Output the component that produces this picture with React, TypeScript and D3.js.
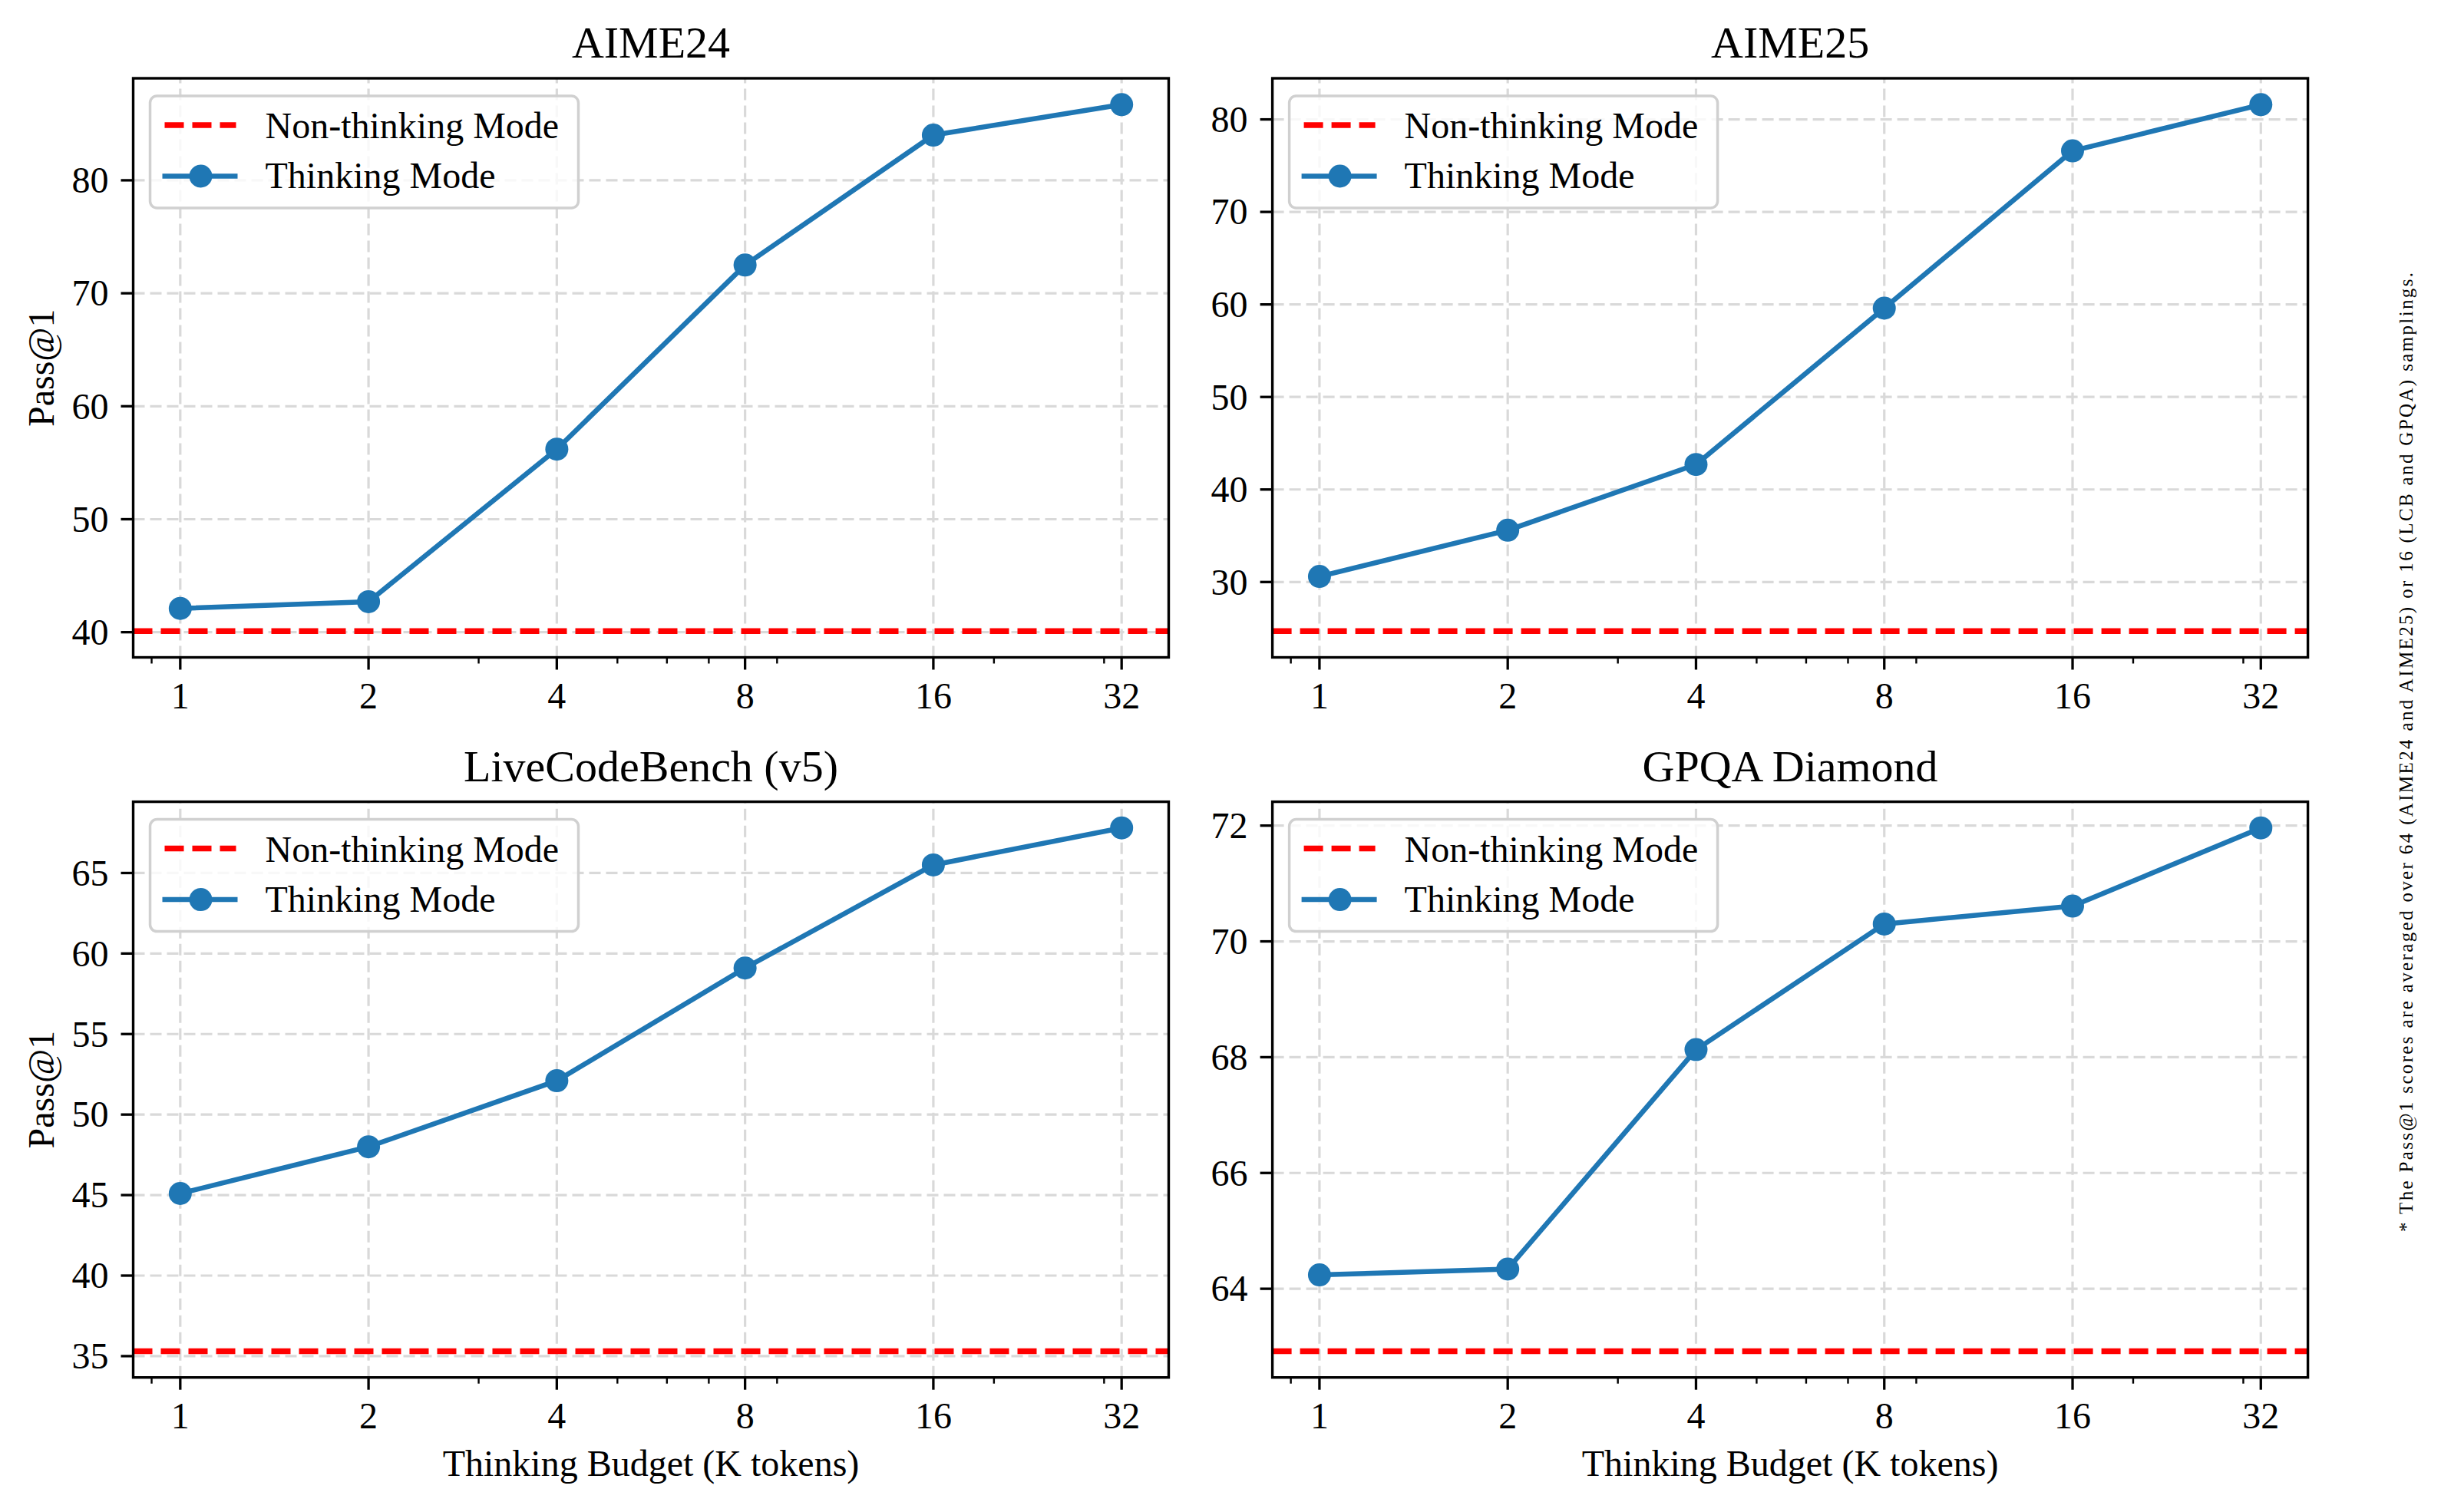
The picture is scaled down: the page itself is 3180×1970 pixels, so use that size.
import React, { useEffect } from "react";
import * as d3 from "d3";

// thinking budget (K tokens)
const budgets = [1, 2, 4, 8, 16, 32];
const minorBudgets = [0.9, 3, 5, 6, 7, 9, 20, 30];

const titles = ["AIME24", "AIME25", "LiveCodeBench (v5)", "GPQA Diamond"];

// Pass@1, thinking mode
const aime24 = [42.1, 42.7, 56.2, 72.5, 84.0, 86.7];
const aime25 = [30.6, 35.6, 42.7, 59.6, 76.6, 81.6];
const lcb = [45.1, 48.0, 52.1, 59.1, 65.5, 67.8];
const gpqa = [64.24, 64.34, 68.13, 70.3, 70.61, 71.96];

// Pass@1, non-thinking mode
const nonThinking = [40.1, 24.7, 35.3, 62.92];

const yTicks = [
  [40, 50, 60, 70, 80],
  [30, 40, 50, 60, 70, 80],
  [35, 40, 45, 50, 55, 60, 65],
  [64, 66, 68, 70, 72],
];

const seriesList = [aime24, aime25, lcb, gpqa];

const W = 3180;
const H = 1970;
const colX = [173.5, 1657.6];
const rowY = [102, 1044.6];
const plotW = 1349;
const plotH = [754.5, 750.1];

const FONT = "'Liberation Serif', 'DejaVu Serif', serif";
const BLUE = "#1f77b4";
const GRID = "#d9d9d9";

const Panel = ({ idx }: { idx: number }) => {
  const col = idx % 2;
  const row = Math.floor(idx / 2);
  const left = colX[col];
  const top = rowY[row];
  const w = plotW;
  const h = plotH[row];
  const values = seriesList[idx];
  const base = nonThinking[idx];

  const lo = Math.min(base, d3.min(values)!);
  const hi = Math.max(base, d3.max(values)!);
  const pad = (hi - lo) * 0.05;

  const x = d3
    .scaleLog()
    .base(2)
    .domain([Math.pow(2, -0.25), Math.pow(2, 5.25)])
    .range([0, w]);
  const y = d3.scaleLinear().domain([lo - pad, hi + pad]).range([h, 0]);

  const line = d3
    .line<number>()
    .x((_, i) => x(budgets[i]))
    .y((d) => y(d));

  const lx = 22;
  const ly = 23;

  return (
    <g transform={`translate(${left},${top})`}>
      {/* grid */}
      {budgets.map((b) => (
        <line
          key={"gx" + b}
          x1={x(b)}
          x2={x(b)}
          y1={h}
          y2={0}
          stroke={GRID}
          strokeWidth={3.2}
          strokeDasharray="15 7"
        />
      ))}
      {yTicks[idx].map((t) => (
        <line
          key={"gy" + t}
          x1={0}
          x2={w}
          y1={y(t)}
          y2={y(t)}
          stroke={GRID}
          strokeWidth={3.2}
          strokeDasharray="15 7"
        />
      ))}

      {/* non-thinking baseline */}
      <line
        x1={0}
        x2={w}
        y1={y(base)}
        y2={y(base)}
        stroke="#ff0000"
        strokeWidth={7.5}
        strokeDasharray="25 11"
      />

      {/* thinking curve */}
      <path d={line(values)!} fill="none" stroke={BLUE} strokeWidth={6.5} strokeLinejoin="round" />
      {values.map((v, i) => (
        <circle key={i} cx={x(budgets[i])} cy={y(v)} r={15} fill={BLUE} />
      ))}

      {/* spines */}
      <rect x={0} y={0} width={w} height={h} fill="none" stroke="#000" strokeWidth={3.4} />

      {/* x ticks */}
      {budgets.map((b) => (
        <g key={"xt" + b}>
          <line x1={x(b)} x2={x(b)} y1={h} y2={h + 16} stroke="#000" strokeWidth={3.3} />
          <text
            x={x(b)}
            y={h + 66}
            textAnchor="middle"
            fontFamily={FONT}
            fontSize={48}
          >
            {b}
          </text>
        </g>
      ))}
      {minorBudgets.map((b) => (
        <line key={"mt" + b} x1={x(b)} x2={x(b)} y1={h} y2={h + 8} stroke="#000" strokeWidth={2.4} />
      ))}

      {/* y ticks */}
      {yTicks[idx].map((t) => (
        <g key={"yt" + t}>
          <line x1={-16} x2={0} y1={y(t)} y2={y(t)} stroke="#000" strokeWidth={3.3} />
          <text
            x={-32}
            y={y(t)}
            dy="0.34em"
            textAnchor="end"
            fontFamily={FONT}
            fontSize={48}
          >
            {t}
          </text>
        </g>
      ))}

      {/* title */}
      <text x={w / 2} y={-27} textAnchor="middle" fontFamily={FONT} fontSize={58}>
        {titles[idx]}
      </text>

      {/* axis labels */}
      {row === 1 && (
        <text x={w / 2} y={h + 128} textAnchor="middle" fontFamily={FONT} fontSize={48}>
          Thinking Budget (K tokens)
        </text>
      )}
      {col === 0 && (
        <text
          transform={`translate(${70 - left},${h / 2}) rotate(-90)`}
          textAnchor="middle"
          fontFamily={FONT}
          fontSize={48}
        >
          Pass@1
        </text>
      )}

      {/* legend */}
      <g transform={`translate(${lx},${ly})`}>
        <rect
          x={0}
          y={0}
          width={558}
          height={146}
          rx={9}
          fill="#fff"
          fillOpacity={0.8}
          stroke="#d0d0d0"
          strokeWidth={3.5}
        />
        <line x1={19} x2={112} y1={38} y2={38} stroke="#ff0000" strokeWidth={7.5} strokeDasharray="25 11" />
        <text x={150} y={55} fontFamily={FONT} fontSize={48}>
          Non-thinking Mode
        </text>
        <line x1={16} x2={114} y1={104.5} y2={104.5} stroke={BLUE} strokeWidth={6.5} />
        <circle cx={66} cy={104.5} r={15} fill={BLUE} />
        <text x={150} y={120} fontFamily={FONT} fontSize={48}>
          Thinking Mode
        </text>
      </g>
    </g>
  );
};

const App = () => {
  useEffect(() => {
    document.body.style.margin = "0";
  }, []);

  return (
    <svg width={W} height={H} style={{ display: "block", background: "#fff" }}>
      <rect width={W} height={H} fill="#fff" />
      {[0, 1, 2, 3].map((i) => (
        <Panel key={i} idx={i} />
      ))}
      <text
        transform={`translate(3143,980) rotate(-90)`}
        textAnchor="middle"
        fontFamily={FONT}
        fontSize={25}
        textLength={1250}
        lengthAdjust="spacing"
      >
        * The Pass@1 scores are averaged over 64 (AIME24 and AIME25) or 16 (LCB and GPQA) samplings.
      </text>
    </svg>
  );
};

export default App;
